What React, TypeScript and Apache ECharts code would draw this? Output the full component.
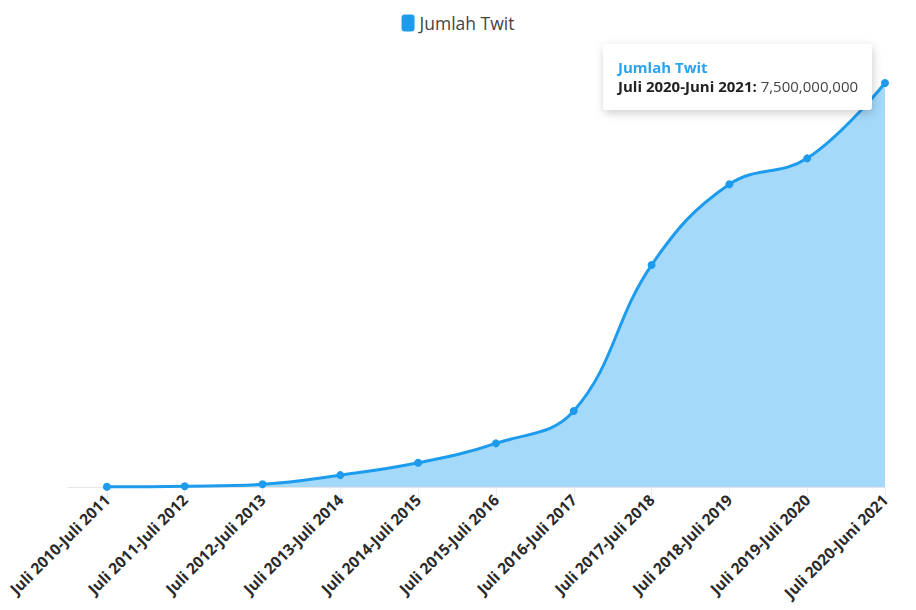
import React, { useEffect, useRef } from "react";
import * as echarts from "echarts";

const categories = [
  "Juli 2010-Juli 2011",
  "Juli 2011-Juli 2012",
  "Juli 2012-Juli 2013",
  "Juli 2013-Juli 2014",
  "Juli 2014-Juli 2015",
  "Juli 2015-Juli 2016",
  "Juli 2016-Juli 2017",
  "Juli 2017-Juli 2018",
  "Juli 2018-Juli 2019",
  "Juli 2019-Juli 2020",
  "Juli 2020-Juni 2021",
];

const seriesName = "Jumlah Twit";
const tweets = [
  5000000, 15000000, 50000000, 220000000, 450000000, 810000000,
  1410000000, 4120000000, 5620000000, 6100000000, 7500000000,
];

const tickPositions = categories.map((_, i) => i);

const FONT = "'Open Sans', 'Noto Sans', sans-serif";

export default function App() {
  const ref = useRef<HTMLDivElement>(null);
  useEffect(() => {
    if (!ref.current) return;
    const chart = echarts.init(ref.current, undefined, { renderer: "svg" });
    const last = tweets.length - 1;
    chart.setOption({
      animation: false,
      backgroundColor: "#ffffff",
      textStyle: { fontFamily: FONT },
      legend: {
        top: 9,
        left: "center",
        icon: "roundRect",
        itemWidth: 13,
        itemHeight: 17,
        itemGap: 6,
        textStyle: { fontSize: 17.5, color: "#444", fontFamily: FONT },
        data: [seriesName],
      },
      grid: {
        left: 68,
        right: 31,
        top: 56,
        bottom: 123,
        containLabel: false,
        outerBoundsMode: "none",
      },
      tooltip: {
        trigger: "item",
        alwaysShowContent: true,
        triggerOn: "none",
        position: [603, 44],
        backgroundColor: "#ffffff",
        borderWidth: 0,
        padding: [14, 12, 14, 15],
        extraCssText:
          "box-shadow: 1px 3px 10px rgba(0,0,0,0.2); border-radius: 3px; width: 269px; box-sizing: border-box;",
        formatter: (p: any) => {
          const idx = p.dataIndex;
          const val = tweets[idx].toLocaleString("en-US");
          return (
            `<div style="position:relative;font-family:${FONT.replace(/'/g, "")};font-size:15px;line-height:19px;white-space:nowrap;">` +
            `<div style="color:#2aa3ef;font-weight:bold;">${p.seriesName}</div>` +
            `<div><span style="color:#222;font-weight:bold;">${categories[idx]}:</span> ` +
            `<span style="color:#444;">${val}</span></div>` +
            `</div>`
          );
        },
      },
      xAxis: {
        type: "value",
        min: -0.5,
        max: tweets.length - 1,
        splitLine: { show: false },
        axisLine: { show: true, lineStyle: { color: "#e6e6e6", width: 1 } },
        axisTick: {
          show: true,
          customValues: tickPositions,
          length: 12,
          lineStyle: { color: "#eeeeee" },
        },
        axisLabel: {
          customValues: tickPositions,
          rotate: 45,
          margin: 10,
          fontSize: 15.5,
          fontWeight: "bold",
          color: "#2a2a2a",
          fontFamily: FONT,
          formatter: (v: number) => categories[Math.round(v)] ?? "",
        },
      },
      yAxis: {
        type: "value",
        min: 0,
        max: 8000000000,
        show: false,
        splitLine: { show: false },
      },
      series: [
        {
          name: seriesName,
          type: "line",
          smooth: 0.4,
          clip: false,
          symbol: "circle",
          symbolSize: 8,
          itemStyle: { color: "#1d9cee" },
          lineStyle: { color: "#1d9cee", width: 3 },
          areaStyle: { color: "rgba(29,159,240,0.4)", opacity: 1 },
          data: tweets.map((v, i) => [i, v]),
        },
      ],
    });
    chart.dispatchAction({ type: "showTip", seriesIndex: 0, dataIndex: last });
    return () => chart.dispose();
  }, []);
  return (
    <div
      ref={ref}
      style={{ position: "absolute", left: 0, top: 0, width: 916, height: 610 }}
    />
  );
}
